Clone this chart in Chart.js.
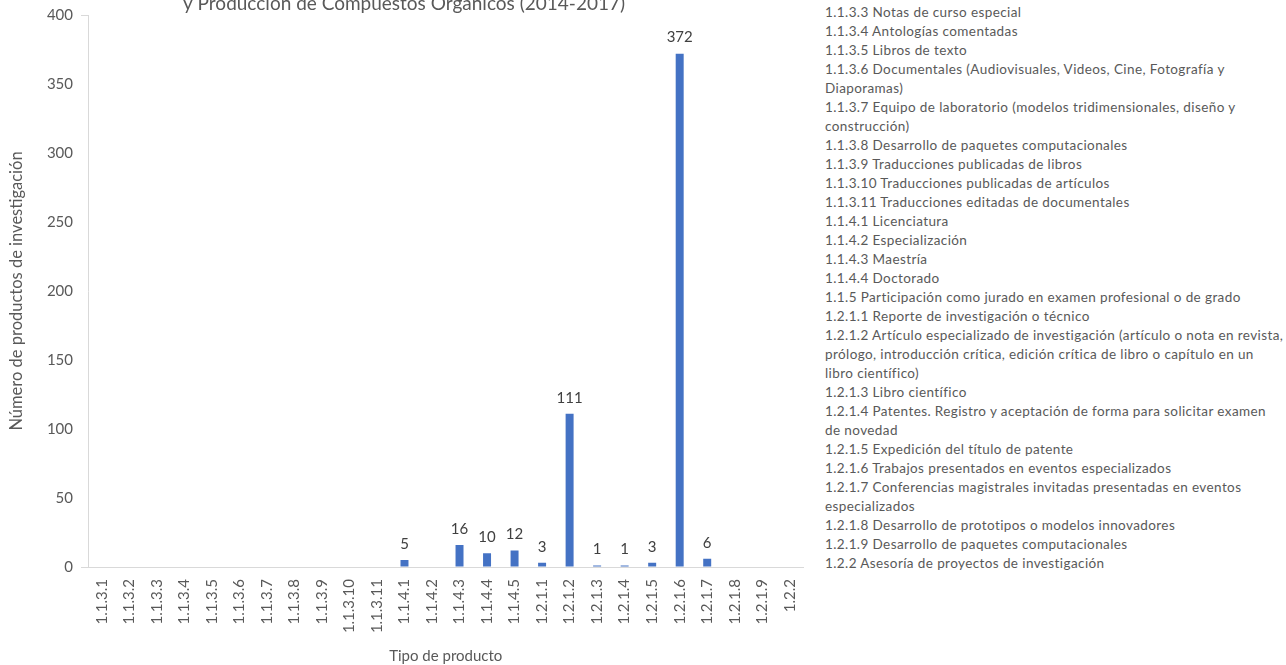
<!DOCTYPE html>
<html>
<head>
<meta charset="utf-8">
<script src="https://cdn.jsdelivr.net/npm/chart.js@4.4.1/dist/chart.umd.min.js"></script>
<style>
  html, body { margin: 0; padding: 0; background: #fff; overflow: hidden; }
  #wrap { position: relative; width: 1286px; height: 665px; overflow: hidden; }
  #chart { position: absolute; left: 0; top: -15px; }
  #notes {
    position: absolute; left: 825px; top: 2.5px; width: 461px;
    font-family: Lato, sans-serif; font-size: 13.5px; line-height: 19px;
    letter-spacing: 0.4px; color: #595959; white-space: pre-line;
  }
</style>
</head>
<body>
<div id="wrap">
  <canvas id="chart" width="820" height="680"></canvas>
  <div id="notes"></div>
</div>
<script>
// Tipos de producto y número de productos de investigación
const categories = [
    '1.1.3.1', '1.1.3.2', '1.1.3.3', '1.1.3.4', '1.1.3.5', '1.1.3.6', '1.1.3.7',
    '1.1.3.8', '1.1.3.9', '1.1.3.10', '1.1.3.11', '1.1.4.1', '1.1.4.2', '1.1.4.3',
    '1.1.4.4', '1.1.4.5', '1.2.1.1', '1.2.1.2', '1.2.1.3', '1.2.1.4', '1.2.1.5',
    '1.2.1.6', '1.2.1.7', '1.2.1.8', '1.2.1.9', '1.2.2'
];
const productos = [0, 0, 0, 0, 0, 0, 0, 0, 0, 0, 0, 5, 0, 16, 10, 12, 3, 111, 1, 1, 3, 372, 6, 0, 0, 0];
const yTicks = [0, 50, 100, 150, 200, 250, 300, 350, 400];

// Lista de descripciones (la parte visible)
const descripciones = [
    '1.1.3.3 Notas de curso especial',
    '1.1.3.4 Antologías comentadas',
    '1.1.3.5 Libros de texto',
    '1.1.3.6 Documentales (Audiovisuales, Videos, Cine, Fotografía y\nDiaporamas)',
    '1.1.3.7 Equipo de laboratorio (modelos tridimensionales, diseño y\nconstrucción)',
    '1.1.3.8 Desarrollo de paquetes computacionales',
    '1.1.3.9 Traducciones publicadas de libros',
    '1.1.3.10 Traducciones publicadas de artículos',
    '1.1.3.11 Traducciones editadas de documentales',
    '1.1.4.1 Licenciatura',
    '1.1.4.2 Especialización',
    '1.1.4.3 Maestría',
    '1.1.4.4 Doctorado',
    '1.1.5 Participación como jurado en examen profesional o de grado',
    '1.2.1.1 Reporte de investigación o técnico',
    '1.2.1.2 Artículo especializado de investigación (artículo o nota en revista,\nprólogo, introducción crítica, edición crítica de libro o capítulo en un\nlibro científico)',
    '1.2.1.3 Libro científico',
    '1.2.1.4 Patentes. Registro y aceptación de forma para solicitar examen\nde novedad',
    '1.2.1.5 Expedición del título de patente',
    '1.2.1.6 Trabajos presentados en eventos especializados',
    '1.2.1.7 Conferencias magistrales invitadas presentadas en eventos\nespecializados',
    '1.2.1.8 Desarrollo de prototipos o modelos innovadores',
    '1.2.1.9 Desarrollo de paquetes computacionales',
    '1.2.2 Asesoría de proyectos de investigación'
];

document.getElementById('notes').textContent = descripciones.join('\n');

// etiquetas encima de las barras (solo valores distintos de cero)
const etiquetas = {
    id: 'etiquetas',
    afterDatasetsDraw(chart) {
        const ctx = chart.ctx;
        const meta = chart.getDatasetMeta(0);
        ctx.save();
        ctx.font = '15px Lato';
        ctx.fillStyle = '#404040';
        ctx.textAlign = 'center';
        ctx.textBaseline = 'middle';
        meta.data.forEach(function(bar, i) {
            if (productos[i] > 0) {
                ctx.fillText(productos[i], bar.x, bar.y - 16);
            }
        });
        ctx.restore();
    }
};

const ctx = document.getElementById('chart').getContext('2d');
new Chart(ctx, {
    type: 'bar',
    data: {
        labels: categories,
        datasets: [{
            data: productos,
            backgroundColor: '#4472C4',
            barPercentage: 0.29,
            categoryPercentage: 1
        }]
    },
    options: {
        responsive: false,
        animation: false,
        layout: { padding: { left: 0, right: 12, top: 0, bottom: 0 } },
        plugins: {
            legend: { display: false },
            tooltip: { enabled: false },
            title: {
                display: true,
                text: 'y Producción de Compuestos Orgánicos (2014-2017)',
                color: '#595959',
                font: { family: 'Lato', size: 19, weight: 'normal' },
                padding: { top: 7, bottom: 0.2 }
            }
        },
        scales: {
            x: {
                grid: { display: false, drawTicks: false },
                border: { color: '#d9d9d9' },
                ticks: {
                    color: '#595959',
                    font: { family: 'Lato', size: 15 },
                    minRotation: 90, maxRotation: 90,
                    padding: 12,
                    autoSkip: false
                },
                title: {
                    display: true,
                    text: 'Tipo de producto',
                    color: '#595959',
                    font: { family: 'Lato', size: 15 },
                    padding: { top: 0, bottom: 0 }
                },
                afterFit(scale) { scale.height = 98; }
            },
            y: {
                min: 0, max: 400,
                afterBuildTicks(scale) { scale.ticks = yTicks.map(v => ({ value: v })); },
                grid: {
                    drawOnChartArea: false,
                    tickLength: 7,
                    color: c => (c.tick && (c.tick.value === 0 || c.tick.value === 400)) ? '#d9d9d9' : 'rgba(0,0,0,0)'
                },
                border: { color: '#d9d9d9' },
                ticks: {
                    color: '#595959',
                    font: { family: 'Lato', size: 15 },
                    padding: 8
                },
                title: {
                    display: true,
                    text: 'Número de productos de investigación',
                    color: '#595959',
                    font: { family: 'Lato', size: 16.5 },
                    padding: { top: 7 }
                },
                afterFit(scale) { scale.width = 88; }
            }
        }
    },
    plugins: [etiquetas]
});
</script>
</body>
</html>
